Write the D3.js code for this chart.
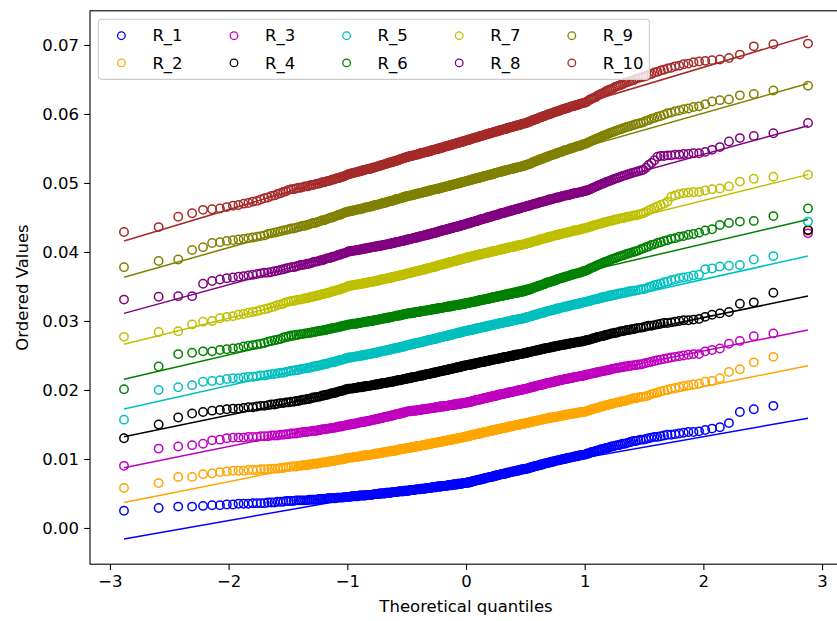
<!DOCTYPE html>
<html>
<head>
<meta charset="utf-8">
<script src="https://cdn.jsdelivr.net/npm/d3@7"></script>
<style>
  html, body { margin: 0; padding: 0; background: #ffffff; }
  svg { display: block; }
</style>
</head>
<body>
<svg id="chart" width="837" height="621"></svg>
<script>
// ---------------- DATA ----------------
const seriesNames = ["R_1", "R_2", "R_3", "R_4", "R_5", "R_6", "R_7", "R_8", "R_9", "R_10"];
const seriesColors = ["#0000ff", "#ffa500", "#bf00bf", "#000000", "#00bfbf", "#008000", "#bfbf00", "#800080", "#808000", "#a52a2a"];

// ordered (sorted) sample values, listed in units of 0.0001
const valueUnit = 1e-4;

const R_1 = [25,29,31,31,32,33,33,34,
34,35,35,35,36,36,36,36,37,37,37,38,38,38,39,39,
39,39,40,40,40,40,40,40,41,41,41,41,41,42,42,42,42,42,43,43,43,43,43,43,44,44,44,44,44,45,45,45,
45,45,46,46,46,46,46,46,47,47,47,47,47,47,48,48,48,48,48,48,49,49,49,49,49,50,50,50,50,50,50,51,51,51,51,51,51,52,52,52,52,52,52,53,53,53,53,53,53,54,54,54,
54,54,54,55,55,55,55,55,55,56,56,56,56,56,56,57,57,57,57,57,57,58,58,58,58,58,58,59,59,59,59,59,59,60,60,60,60,60,60,61,61,61,61,61,61,62,62,62,62,62,62,63,63,63,63,63,63,64,64,64,64,64,64,65,65,65,65,
65,66,66,66,66,67,67,67,68,68,68,69,69,69,70,70,70,70,71,71,71,72,72,72,73,73,73,74,74,74,74,75,75,75,76,76,76,77,77,77,78,78,78,78,79,79,79,80,80,80,81,81,81,82,82,82,82,83,83,83,84,84,84,85,85,85,85,
86,86,86,87,87,88,88,88,89,89,90,90,90,91,91,92,92,92,93,93,94,94,94,95,95,96,96,96,97,97,98,98,98,99,99,100,100,100,101,101,102,102,102,103,103,104,104,104,105,105,106,106,106,
107,108,108,109,110,110,111,112,112,113,114,114,115,116,116,117,118,118,119,120,120,121,122,122,123,124,125,126,126,127,128,128,
129,130,131,132,132,133,134,135,135,136,137,138,139,139,140,
142,144,146,152,168,172,177,431];

const R_2 = [58,65,74,74,78,79,81,82,
83,83,83,84,84,84,85,85,85,86,86,86,87,87,88,88,
89,89,89,90,90,91,91,91,92,92,93,93,93,94,94,95,95,95,96,96,97,97,97,98,98,99,99,99,100,100,101,101,
102,102,102,102,103,103,103,103,104,104,104,105,105,105,105,106,106,106,106,107,107,107,108,108,108,108,109,109,109,109,110,110,110,111,111,111,111,112,112,112,112,113,113,113,114,114,114,114,115,115,115,115,
116,116,116,116,117,117,117,117,118,118,118,118,119,119,119,119,120,120,120,120,121,121,121,121,122,122,122,122,123,123,123,123,124,124,124,124,125,125,125,125,126,126,126,126,127,127,127,127,128,128,128,128,129,129,129,129,130,130,130,130,131,131,131,131,132,132,132,
133,133,133,133,134,134,134,135,135,135,135,136,136,136,137,137,137,137,138,138,138,139,139,139,139,140,140,140,141,141,141,141,142,142,142,143,143,143,143,144,144,144,145,145,145,145,146,146,146,147,147,147,147,148,148,148,149,149,149,149,150,150,150,151,151,151,151,
152,152,152,153,153,153,154,154,154,155,155,155,156,156,156,157,157,157,158,158,158,159,159,159,160,160,160,160,161,161,161,162,162,162,163,163,163,164,164,164,165,165,165,166,166,166,167,167,167,168,168,168,168,
169,170,170,171,172,172,173,174,174,175,176,176,177,178,178,179,180,180,181,182,182,183,184,184,185,186,187,188,188,189,190,190,
191,192,194,195,196,198,199,200,202,203,204,206,207,208,209,
212,213,217,226,230,240,248,430];

const R_3 = [90,115,118,120,122,127,128,130,
131,131,131,132,132,132,133,133,133,134,134,134,135,135,136,136,
137,137,137,138,138,139,139,139,140,140,141,141,141,142,142,143,143,143,144,144,145,145,145,146,146,147,147,147,148,148,149,149,
150,150,150,151,151,151,152,152,153,153,153,154,154,154,155,155,155,156,156,157,157,157,158,158,158,159,159,159,160,160,161,161,161,162,162,162,163,163,163,164,164,165,165,165,166,166,166,167,167,167,168,168,
169,169,169,169,169,170,170,170,170,170,170,171,171,171,171,171,172,172,172,172,172,173,173,173,173,173,174,174,174,174,174,175,175,175,175,175,176,176,176,176,176,176,177,177,177,177,177,178,178,178,178,178,179,179,179,179,179,180,180,180,180,180,181,181,181,181,181,
182,182,182,182,183,183,183,184,184,184,185,185,185,185,186,186,186,187,187,187,188,188,188,188,189,189,189,190,190,190,191,191,191,191,192,192,192,193,193,193,194,194,194,194,195,195,195,196,196,196,197,197,197,197,198,198,198,199,199,199,200,200,200,200,201,201,201,
202,202,202,203,203,204,204,204,205,205,205,206,206,207,207,207,208,208,208,209,209,210,210,210,211,211,211,212,212,213,213,213,214,214,214,215,215,216,216,216,217,217,217,218,218,219,219,219,220,220,220,221,221,
222,222,223,223,224,224,225,225,226,226,227,227,228,228,229,229,230,231,231,232,232,233,233,234,234,235,235,236,236,237,237,238,
239,240,241,242,243,244,245,246,247,248,249,250,251,252,252,
256,258,260,267,271,278,282,427];

const R_4 = [130,150,160,166,168,170,171,172,
173,173,174,175,175,176,177,177,178,179,179,180,181,181,182,182,
183,183,184,184,185,186,186,187,187,188,189,189,190,190,191,192,192,193,193,194,195,195,196,196,197,198,198,199,199,200,201,201,
202,202,202,202,203,203,203,204,204,204,204,205,205,205,206,206,206,206,207,207,207,208,208,208,208,209,209,209,210,210,210,210,211,211,211,212,212,212,212,213,213,213,214,214,214,214,215,215,215,216,216,216,
217,217,217,217,218,218,218,219,219,219,219,220,220,220,221,221,221,221,222,222,222,223,223,223,223,224,224,224,225,225,225,225,226,226,226,227,227,227,227,228,228,228,229,229,229,229,230,230,230,231,231,231,231,232,232,232,233,233,233,233,234,234,234,235,235,235,235,
236,236,236,236,237,237,237,237,238,238,238,238,239,239,239,240,240,240,240,241,241,241,241,242,242,242,242,243,243,243,244,244,244,244,245,245,245,245,246,246,246,246,247,247,247,248,248,248,248,249,249,249,249,250,250,250,251,251,251,251,252,252,252,252,253,253,253,
254,254,254,255,255,255,256,256,256,257,257,257,258,258,258,259,259,259,260,260,260,261,261,261,262,262,262,263,263,263,264,264,264,265,265,265,266,266,266,267,267,267,268,268,268,269,269,269,270,270,270,271,271,
272,272,273,273,274,275,275,276,277,277,278,278,279,280,280,281,282,282,283,283,284,285,285,286,287,287,288,288,289,290,290,291,
292,293,293,294,295,296,297,297,298,299,300,301,301,302,303,
306,309,311,313,325,327,341,432];

const R_5 = [157,200,204,207,212,213,214,216,
217,217,218,219,219,220,221,221,222,223,223,224,225,225,226,227,
228,228,229,229,230,231,231,232,232,233,234,234,235,235,236,237,237,238,238,239,240,240,241,241,242,243,243,244,244,245,246,246,
247,247,247,248,248,248,249,249,249,250,250,250,251,251,251,252,252,252,253,253,253,254,254,254,255,255,256,256,256,257,257,257,258,258,258,259,259,259,260,260,260,261,261,261,262,262,262,263,263,263,264,264,
265,265,265,266,266,266,267,267,267,268,268,268,268,269,269,269,270,270,270,271,271,271,272,272,272,273,273,273,273,274,274,274,275,275,275,276,276,276,277,277,277,278,278,278,278,279,279,279,280,280,280,281,281,281,282,282,282,283,283,283,283,284,284,284,285,285,285,
286,286,286,286,287,287,287,287,288,288,288,289,289,289,289,290,290,290,291,291,291,291,292,292,292,293,293,293,293,294,294,294,295,295,295,295,296,296,296,297,297,297,297,298,298,298,299,299,299,299,300,300,300,301,301,301,301,302,302,302,303,303,303,303,304,304,304,
305,305,306,306,306,307,307,308,308,309,309,309,310,310,311,311,312,312,312,313,313,314,314,315,315,315,316,316,317,317,318,318,318,319,319,320,320,321,321,321,322,322,323,323,324,324,324,325,325,326,326,327,327,
328,328,329,329,330,331,331,332,332,333,334,334,335,335,336,337,337,338,338,339,340,340,341,341,342,343,343,344,344,345,346,346,
347,349,350,352,353,354,356,357,359,360,362,363,364,366,367,
375,376,379,380,381,389,394,444];

const R_6 = [201,234,252,254,256,256,258,259,
260,261,263,264,265,266,267,268,270,271,272,273,274,276,277,278,
279,279,280,280,281,281,282,282,283,283,284,284,285,285,286,286,287,287,288,288,289,289,290,290,291,291,292,292,293,293,294,294,
295,295,295,296,296,296,296,297,297,297,298,298,298,299,299,299,300,300,300,300,301,301,301,302,302,302,303,303,303,304,304,304,304,305,305,305,306,306,306,307,307,307,308,308,308,308,309,309,309,310,310,310,
311,311,311,311,311,312,312,312,312,313,313,313,313,313,314,314,314,314,315,315,315,315,315,316,316,316,316,317,317,317,317,317,318,318,318,318,319,319,319,319,319,320,320,320,320,321,321,321,321,321,322,322,322,322,323,323,323,323,323,324,324,324,324,325,325,325,325,
326,326,326,326,327,327,327,327,328,328,328,328,329,329,329,330,330,330,330,331,331,331,331,332,332,332,332,333,333,333,334,334,334,334,335,335,335,335,336,336,336,336,337,337,337,338,338,338,338,339,339,339,339,340,340,340,341,341,341,341,342,342,342,342,343,343,343,
344,344,345,345,346,346,347,347,348,349,349,350,350,351,351,352,352,353,353,354,355,355,356,356,357,357,358,358,359,359,360,361,361,362,362,363,363,364,364,365,365,366,367,367,368,368,369,369,370,370,371,372,372,
373,374,375,376,377,378,379,380,381,382,383,384,385,386,387,388,389,390,391,392,393,394,395,396,397,398,399,400,401,402,404,405,
407,408,410,411,413,414,416,417,419,420,422,423,425,426,428,
431,433,439,442,444,445,452,463];

const R_7 = [277,284,285,295,299,300,304,306,
307,309,310,312,313,314,316,317,318,320,321,323,324,325,327,328,
329,329,330,331,331,332,333,333,334,335,335,336,337,337,338,339,339,340,341,341,342,343,343,344,345,345,346,347,347,348,349,350,
351,351,351,352,352,352,353,353,353,354,354,354,355,355,355,356,356,356,357,357,357,358,358,358,359,359,360,360,360,361,361,361,362,362,362,363,363,363,364,364,364,365,365,365,366,366,366,367,367,367,368,368,
369,369,369,370,370,370,371,371,371,372,372,372,373,373,373,374,374,374,375,375,375,376,376,376,377,377,377,378,378,378,379,379,379,380,380,381,381,381,382,382,382,383,383,383,384,384,384,385,385,385,386,386,386,387,387,387,388,388,388,389,389,389,390,390,390,391,391,
392,392,392,392,393,393,393,394,394,394,395,395,395,395,396,396,396,397,397,397,398,398,398,398,399,399,399,400,400,400,401,401,401,401,402,402,402,403,403,403,404,404,404,404,405,405,405,406,406,406,407,407,407,407,408,408,408,409,409,409,410,410,410,410,411,411,411,
412,412,413,413,413,414,414,415,415,416,416,416,417,417,418,418,419,419,419,420,420,421,421,422,422,422,423,423,424,424,425,425,425,426,426,427,427,428,428,428,429,429,430,430,431,431,431,432,432,433,433,434,434,
435,435,436,437,437,438,439,439,440,441,441,442,443,443,444,445,445,446,447,447,448,449,449,450,451,451,452,453,453,454,455,456,
458,460,462,464,466,468,470,473,480,482,484,485,486,487,487,
489,491,492,495,502,506,509,512];

const R_8 = [331,335,336,336,354,358,360,362,
363,364,365,366,367,368,369,370,370,371,372,373,374,375,376,377,
378,378,379,380,381,381,382,383,383,384,385,386,386,387,388,388,389,390,391,391,392,393,393,394,395,396,396,397,398,398,399,400,
401,401,401,402,402,402,403,403,403,404,404,404,405,405,405,406,406,406,407,407,407,408,408,408,409,409,409,409,410,410,410,411,411,411,412,412,412,413,413,413,414,414,414,415,415,415,416,416,416,417,417,417,
418,418,418,419,419,419,420,420,420,421,421,421,422,422,422,423,423,423,424,424,424,425,425,425,426,426,426,427,427,427,428,428,428,429,429,430,430,430,431,431,431,432,432,432,433,433,433,434,434,434,435,435,435,436,436,436,437,437,437,438,438,438,439,439,439,440,440,
441,441,441,442,442,442,443,443,444,444,444,445,445,445,446,446,447,447,447,448,448,448,449,449,450,450,450,451,451,451,452,452,453,453,453,454,454,454,455,455,456,456,456,457,457,457,458,458,459,459,459,460,460,460,461,461,462,462,462,463,463,463,464,464,465,465,465,
466,466,467,467,467,468,468,469,469,470,470,470,471,471,472,472,473,473,473,474,474,475,475,476,476,476,477,477,478,478,479,479,479,480,480,481,481,482,482,482,483,483,484,484,485,485,485,486,486,487,487,488,488,
489,489,490,491,492,493,494,495,496,497,498,499,500,501,502,503,504,505,506,507,508,509,510,511,512,513,514,515,516,517,518,519,
522,526,529,533,538,539,539,540,540,541,541,542,542,543,543,
545,548,552,560,565,568,572,587];

const R_9 = [378,387,389,403,407,413,414,416,
417,418,419,420,421,422,423,424,426,427,428,429,430,431,432,433,
434,434,435,436,437,438,438,439,440,441,442,442,443,444,445,446,446,447,448,449,450,450,451,452,453,454,454,455,456,457,458,458,
459,459,459,460,460,461,461,462,462,462,463,463,464,464,465,465,465,466,466,467,467,468,468,468,469,469,470,470,471,471,471,472,472,473,473,474,474,474,475,475,476,476,477,477,477,478,478,479,479,480,480,480,
481,481,481,482,482,482,483,483,483,484,484,484,485,485,485,486,486,486,487,487,487,488,488,488,489,489,489,490,490,490,491,491,491,491,492,492,492,493,493,493,494,494,494,495,495,495,496,496,496,497,497,497,498,498,498,499,499,499,500,500,500,501,501,501,502,502,502,
503,503,503,504,504,504,505,505,505,506,506,506,507,507,507,508,508,508,509,509,509,510,510,510,511,511,511,512,512,512,513,513,513,514,514,515,515,515,516,516,516,517,517,517,518,518,518,519,519,519,520,520,520,521,521,521,522,522,522,523,523,523,524,524,524,525,525,
526,526,527,527,528,528,529,530,530,531,531,532,533,533,534,534,535,535,536,537,537,538,538,539,540,540,541,541,542,542,543,544,544,545,545,546,547,547,548,548,549,550,550,551,551,552,553,553,554,554,555,556,556,
557,558,559,560,561,562,563,564,565,566,567,568,569,570,571,572,573,574,575,576,577,578,579,580,581,582,583,584,585,586,587,588,
590,591,593,594,596,597,599,601,602,604,605,607,608,610,611,
614,618,620,621,627,629,634,641];

const R_10 = [429,436,451,456,461,462,463,465,
467,468,470,471,473,474,476,478,479,481,482,484,485,487,488,490,
491,491,492,493,493,494,495,495,496,497,497,498,499,499,500,501,501,502,503,503,504,505,505,506,507,507,508,509,509,510,511,512,
513,513,514,514,515,515,516,516,517,517,518,518,519,519,520,520,520,521,521,522,522,523,523,524,524,525,525,526,526,527,527,528,528,529,529,530,530,530,531,531,532,532,533,533,534,534,535,535,536,536,537,537,
538,538,538,539,539,539,540,540,540,541,541,541,542,542,543,543,543,544,544,544,545,545,545,546,546,546,547,547,548,548,548,549,549,549,550,550,550,551,551,551,552,552,553,553,553,554,554,554,555,555,555,556,556,557,557,557,558,558,558,559,559,559,560,560,560,561,561,
562,562,562,563,563,563,564,564,565,565,565,566,566,566,567,567,568,568,568,569,569,569,570,570,571,571,571,572,572,572,573,573,574,574,574,575,575,575,576,576,577,577,577,578,578,578,579,579,580,580,580,581,581,581,582,582,583,583,583,584,584,584,585,585,586,586,586,
587,587,588,588,589,589,590,591,591,592,592,593,593,594,595,595,596,596,597,597,598,599,599,600,600,601,601,602,603,603,604,604,605,605,606,607,607,608,608,609,609,610,611,611,612,612,613,613,614,615,615,616,616,
617,618,620,621,622,623,624,625,627,628,629,630,631,633,634,635,636,637,639,640,641,642,643,645,646,647,648,649,651,652,653,654,
655,657,658,660,661,663,664,666,667,669,670,672,673,675,676,
677,678,679,681,686,698,701,702];

const orderedValues = [R_1, R_2, R_3, R_4, R_5, R_6, R_7, R_8, R_9, R_10];

// least-squares fit lines (value = intercept + slope * theoretical quantile)
const fitSlope     = [0.00304, 0.00344, 0.003465, 0.003535, 0.003845, 0.00402, 0.004267, 0.00472, 0.004873, 0.005156];
const fitIntercept = [0.00715, 0.01359, 0.01872, 0.02342, 0.02833, 0.03313, 0.03891, 0.0447, 0.05037, 0.05645];

const xTicks = [-3, -2, -1, 0, 1, 2, 3];
const yTicks = [0.00, 0.01, 0.02, 0.03, 0.04, 0.05, 0.06, 0.07];
const xDomain = [-3.168, 3.168];
const yDomain = [-0.00525, 0.07495];

// ---------------- THEORETICAL QUANTILES (normal probability plot) ----------------
function normInv(p) {
  const a = [-3.969683028665376e+01, 2.209460984245205e+02, -2.759285104469687e+02, 1.383577518672690e+02, -3.066479806614716e+01, 2.506628277459239e+00];
  const b = [-5.447609879822406e+01, 1.615858368580409e+02, -1.556989798598866e+02, 6.680131188771972e+01, -1.328068155288572e+01];
  const c = [-7.784894002430293e-03, -3.223964580411365e-01, -2.400758277161838e+00, -2.549732539343734e+00, 4.374664141464968e+00, 2.938163982698783e+00];
  const d = [7.784695709041462e-03, 3.224671290700398e-01, 2.445134137142996e+00, 3.754408661907416e+00];
  const pl = 0.02425;
  let q, r;
  if (p < pl) {
    q = Math.sqrt(-2 * Math.log(p));
    return (((((c[0]*q+c[1])*q+c[2])*q+c[3])*q+c[4])*q+c[5]) / ((((d[0]*q+d[1])*q+d[2])*q+d[3])*q+1);
  } else if (p <= 1 - pl) {
    q = p - 0.5; r = q * q;
    return (((((a[0]*r+a[1])*r+a[2])*r+a[3])*r+a[4])*r+a[5])*q / (((((b[0]*r+b[1])*r+b[2])*r+b[3])*r+b[4])*r+1);
  } else {
    q = Math.sqrt(-2 * Math.log(1 - p));
    return -(((((c[0]*q+c[1])*q+c[2])*q+c[3])*q+c[4])*q+c[5]) / ((((d[0]*q+d[1])*q+d[2])*q+d[3])*q+1);
  }
}
function fillibenQuantiles(n) {
  const m = new Array(n);
  m[n - 1] = Math.pow(0.5, 1 / n);
  m[0] = 1 - m[n - 1];
  for (let i = 1; i < n - 1; i++) m[i] = (i + 1 - 0.3175) / (n + 0.365);
  return m.map(normInv);
}

// ---------------- DRAW ----------------
const W = 837, H = 621;
const plot = { left: 90, right: 842, top: 10.8, bottom: 564.2 };
const FONT = "DejaVu Sans, Liberation Sans, sans-serif";
const FS = 16.5;
const MARKER_R = 4.2, MARKER_W = 1.5;

const svg = d3.select("#chart");
svg.append("rect").attr("width", W).attr("height", H).attr("fill", "#ffffff");

const x = d3.scaleLinear().domain(xDomain).range([plot.left, plot.right]);
const y = d3.scaleLinear().domain(yDomain).range([plot.bottom, plot.top]);

svg.append("defs").append("clipPath").attr("id", "plotClip")
  .append("rect").attr("x", plot.left).attr("y", plot.top)
  .attr("width", plot.right - plot.left).attr("height", plot.bottom - plot.top);

const dataG = svg.append("g").attr("clip-path", "url(#plotClip)");

orderedValues.forEach((vals, s) => {
  const q = fillibenQuantiles(vals.length);
  const pts = vals.map((v, i) => ({ q: q[i], v: v * valueUnit }));
  const g = dataG.append("g").attr("class", "series " + seriesNames[s]);
  g.selectAll("circle").data(pts).join("circle")
    .attr("cx", d => x(d.q)).attr("cy", d => y(d.v)).attr("r", MARKER_R)
    .attr("fill", "none").attr("stroke", seriesColors[s]).attr("stroke-width", MARKER_W);
  const qEnds = [q[0], q[q.length - 1]];
  const line = d3.line().x(d => x(d)).y(d => y(fitIntercept[s] + fitSlope[s] * d));
  g.append("path").datum(qEnds).attr("d", line)
    .attr("fill", "none").attr("stroke", seriesColors[s]).attr("stroke-width", 1.5);
});

// axes
const fmtX = d => (d < 0 ? "\u2212" + Math.abs(d) : String(d));
const gx = svg.append("g").attr("transform", `translate(0,${plot.bottom})`)
  .call(d3.axisBottom(x).tickValues(xTicks).tickFormat(fmtX).tickSize(5.8).tickPadding(5.2).tickSizeOuter(0));
const gy = svg.append("g").attr("transform", `translate(${plot.left},0)`)
  .call(d3.axisLeft(y).tickValues(yTicks).tickFormat(d3.format(".2f")).tickSize(5.8).tickPadding(5.2).tickSizeOuter(0));
[gx, gy].forEach(g => {
  g.select(".domain").remove();
  g.selectAll(".tick line").attr("stroke", "#000").attr("stroke-width", 1.1);
  g.selectAll(".tick text").attr("font-family", FONT).attr("font-size", FS).attr("fill", "#000");
});

// frame
svg.append("rect").attr("x", plot.left).attr("y", plot.top)
  .attr("width", plot.right - plot.left).attr("height", plot.bottom - plot.top)
  .attr("fill", "none").attr("stroke", "#000").attr("stroke-width", 1.1);

// axis labels
svg.append("text").attr("x", (plot.left + plot.right) / 2).attr("y", 612)
  .attr("text-anchor", "middle").attr("font-family", FONT).attr("font-size", FS).attr("fill", "#000")
  .text("Theoretical quantiles");
svg.append("text").attr("transform", `translate(28,${(plot.top + plot.bottom) / 2}) rotate(-90)`)
  .attr("text-anchor", "middle").attr("font-family", FONT).attr("font-size", FS).attr("fill", "#000")
  .text("Ordered Values");

// legend
const leg = svg.append("g");
leg.append("rect").attr("x", 98.4).attr("y", 19.2).attr("width", 551).attr("height", 60.2)
  .attr("rx", 3.3).attr("fill", "#ffffff").attr("fill-opacity", 0.8)
  .attr("stroke", "#cccccc").attr("stroke-width", 1.1);
seriesNames.forEach((name, i) => {
  const col = Math.floor(i / 2), row = i % 2;
  const cx = 121.4 + col * 112.6, cy = 35.7 + row * 27.2;
  leg.append("circle").attr("cx", cx).attr("cy", cy).attr("r", 3.8)
    .attr("fill", "none").attr("stroke", seriesColors[i]).attr("stroke-width", 1.3);
  leg.append("text").attr("x", cx + 31).attr("y", cy).attr("dy", "0.35em")
    .attr("font-family", FONT).attr("font-size", FS).attr("fill", "#000").text(name);
});
</script>
</body>
</html>
